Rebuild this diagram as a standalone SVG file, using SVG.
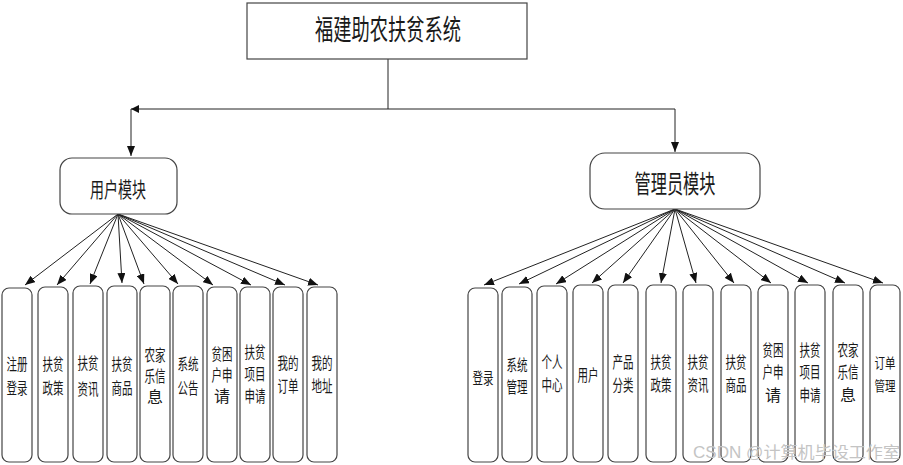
<svg xmlns="http://www.w3.org/2000/svg" width="903" height="465" viewBox="0 0 903 465">
<defs>
<marker id="ah" markerWidth="10" markerHeight="8" refX="10" refY="4" orient="auto" markerUnits="userSpaceOnUse">
<path d="M0,0 L10,4 L0,8 Z" fill="#111"/>
</marker>
<style>
.box{fill:#fff;stroke:#444;stroke-width:1.2}
.ln{fill:none;stroke:#222;stroke-width:1}
.t{font-family:"Liberation Sans","Noto Sans CJK SC",sans-serif;fill:#1a1a1a;text-anchor:middle}
.s{font-size:16px}
.wm{font-family:"Liberation Sans","Noto Sans CJK SC",sans-serif;font-size:16px;fill:#c4c4c4}
</style>
</defs>
<g id="connectors">
<path class="ln" d="M388,59 V109 H131 V156" marker-end="url(#ah)"/>
<path d="M131,109 L139,105 L139,113 Z" fill="#111"/>
<path class="ln" d="M388,109 H675 V152" marker-end="url(#ah)"/>
<g class="ln">
<line x1="118" y1="214" x2="25" y2="285" marker-end="url(#ah)"/>
<line x1="118" y1="214" x2="57" y2="285" marker-end="url(#ah)"/>
<line x1="118" y1="214" x2="90" y2="284" marker-end="url(#ah)"/>
<line x1="118" y1="214" x2="122" y2="283" marker-end="url(#ah)"/>
<line x1="118" y1="214" x2="144" y2="284" marker-end="url(#ah)"/>
<line x1="118" y1="214" x2="178" y2="284" marker-end="url(#ah)"/>
<line x1="118" y1="214" x2="213" y2="285" marker-end="url(#ah)"/>
<line x1="118" y1="214" x2="251" y2="285" marker-end="url(#ah)"/>
<line x1="118" y1="214" x2="285" y2="285" marker-end="url(#ah)"/>
<line x1="118" y1="214" x2="318" y2="285" marker-end="url(#ah)"/>
<line x1="675" y1="209" x2="484" y2="285" marker-end="url(#ah)"/>
<line x1="675" y1="209" x2="519" y2="284" marker-end="url(#ah)"/>
<line x1="675" y1="209" x2="556" y2="284" marker-end="url(#ah)"/>
<line x1="675" y1="209" x2="592" y2="283" marker-end="url(#ah)"/>
<line x1="675" y1="209" x2="623" y2="283" marker-end="url(#ah)"/>
<line x1="675" y1="209" x2="661" y2="283" marker-end="url(#ah)"/>
<line x1="675" y1="209" x2="696" y2="283" marker-end="url(#ah)"/>
<line x1="675" y1="209" x2="734" y2="283" marker-end="url(#ah)"/>
<line x1="675" y1="209" x2="771" y2="283" marker-end="url(#ah)"/>
<line x1="675" y1="209" x2="808" y2="283" marker-end="url(#ah)"/>
<line x1="675" y1="209" x2="845" y2="283" marker-end="url(#ah)"/>
<line x1="675" y1="209" x2="883" y2="283" marker-end="url(#ah)"/>
</g>
</g>
<g id="root">
<rect class="box" x="247" y="3" width="280" height="56"/>
<text class="t" x="388" y="40" font-size="28" textLength="146" lengthAdjust="spacingAndGlyphs">福建助农扶贫系统</text>
</g>
<g id="user">
<rect class="box" x="60" y="158" width="117" height="56" rx="12"/>
<text class="t" x="118" y="197" font-size="21" textLength="56" lengthAdjust="spacingAndGlyphs">用户模块</text>
</g>
<g id="admin">
<rect class="box" x="590" y="153" width="170" height="56" rx="15"/>
<text class="t" x="675" y="193" font-size="25" textLength="81" lengthAdjust="spacingAndGlyphs">管理员模块</text>
</g>
<g id="u1"><rect class="box" x="2" y="288" width="30" height="174" rx="7"/><text class="t s" x="17" y="370" textLength="21" lengthAdjust="spacingAndGlyphs">注册</text><text class="t s" x="17" y="394" textLength="21" lengthAdjust="spacingAndGlyphs">登录</text></g>
<g id="u2"><rect class="box" x="38" y="287" width="30" height="175" rx="7"/><text class="t s" x="53" y="370" textLength="21" lengthAdjust="spacingAndGlyphs">扶贫</text><text class="t s" x="53" y="394" textLength="21" lengthAdjust="spacingAndGlyphs">政策</text></g>
<g id="u3"><rect class="box" x="73" y="286" width="30" height="176" rx="7"/><text class="t s" x="88" y="369" textLength="21" lengthAdjust="spacingAndGlyphs">扶贫</text><text class="t s" x="88" y="395" textLength="21" lengthAdjust="spacingAndGlyphs">资讯</text></g>
<g id="u4"><rect class="box" x="107" y="286" width="30" height="176" rx="7"/><text class="t s" x="122" y="370" textLength="21" lengthAdjust="spacingAndGlyphs">扶贫</text><text class="t s" x="122" y="394" textLength="21" lengthAdjust="spacingAndGlyphs">商品</text></g>
<g id="u5"><rect class="box" x="140" y="286" width="30" height="176" rx="7"/><text class="t s" x="155" y="361" textLength="21" lengthAdjust="spacingAndGlyphs">农家</text><text class="t s" x="155" y="382" textLength="21" lengthAdjust="spacingAndGlyphs">乐信</text><text class="t s" x="155" y="403">息</text></g>
<g id="u6"><rect class="box" x="173" y="286" width="30" height="176" rx="7"/><text class="t s" x="188" y="370" textLength="21" lengthAdjust="spacingAndGlyphs">系统</text><text class="t s" x="188" y="394" textLength="21" lengthAdjust="spacingAndGlyphs">公告</text></g>
<g id="u7"><rect class="box" x="207" y="287" width="30" height="175" rx="7"/><text class="t s" x="222" y="360" textLength="21" lengthAdjust="spacingAndGlyphs">贫困</text><text class="t s" x="222" y="381" textLength="21" lengthAdjust="spacingAndGlyphs">户申</text><text class="t s" x="222" y="402">请</text></g>
<g id="u8"><rect class="box" x="240" y="287" width="30" height="175" rx="7"/><text class="t s" x="255" y="358" textLength="21" lengthAdjust="spacingAndGlyphs">扶贫</text><text class="t s" x="255" y="380" textLength="21" lengthAdjust="spacingAndGlyphs">项目</text><text class="t s" x="255" y="402" textLength="21" lengthAdjust="spacingAndGlyphs">申请</text></g>
<g id="u9"><rect class="box" x="273" y="287" width="30" height="175" rx="7"/><text class="t s" x="288" y="369" textLength="21" lengthAdjust="spacingAndGlyphs">我的</text><text class="t s" x="288" y="392" textLength="21" lengthAdjust="spacingAndGlyphs">订单</text></g>
<g id="u10"><rect class="box" x="307" y="287" width="30" height="175" rx="7"/><text class="t s" x="322" y="369" textLength="21" lengthAdjust="spacingAndGlyphs">我的</text><text class="t s" x="322" y="392" textLength="21" lengthAdjust="spacingAndGlyphs">地址</text></g>
<g id="a1"><rect class="box" x="468" y="288" width="30" height="174" rx="7"/><text class="t s" x="483" y="384" textLength="21" lengthAdjust="spacingAndGlyphs">登录</text></g>
<g id="a2"><rect class="box" x="502" y="287" width="30" height="175" rx="7"/><text class="t s" x="517" y="371" textLength="21" lengthAdjust="spacingAndGlyphs">系统</text><text class="t s" x="517" y="393" textLength="21" lengthAdjust="spacingAndGlyphs">管理</text></g>
<g id="a3"><rect class="box" x="537" y="286" width="30" height="176" rx="7"/><text class="t s" x="552" y="368" textLength="21" lengthAdjust="spacingAndGlyphs">个人</text><text class="t s" x="552" y="391" textLength="21" lengthAdjust="spacingAndGlyphs">中心</text></g>
<g id="a4"><rect class="box" x="573" y="285" width="30" height="177" rx="7"/><text class="t s" x="588" y="381" textLength="21" lengthAdjust="spacingAndGlyphs">用户</text></g>
<g id="a5"><rect class="box" x="608" y="285" width="30" height="177" rx="7"/><text class="t s" x="623" y="368" textLength="21" lengthAdjust="spacingAndGlyphs">产品</text><text class="t s" x="623" y="391" textLength="21" lengthAdjust="spacingAndGlyphs">分类</text></g>
<g id="a6"><rect class="box" x="646" y="285" width="30" height="177" rx="7"/><text class="t s" x="661" y="368" textLength="21" lengthAdjust="spacingAndGlyphs">扶贫</text><text class="t s" x="661" y="391" textLength="21" lengthAdjust="spacingAndGlyphs">政策</text></g>
<g id="a7"><rect class="box" x="683" y="285" width="30" height="177" rx="7"/><text class="t s" x="698" y="368" textLength="21" lengthAdjust="spacingAndGlyphs">扶贫</text><text class="t s" x="698" y="391" textLength="21" lengthAdjust="spacingAndGlyphs">资讯</text></g>
<g id="a8"><rect class="box" x="721" y="285" width="30" height="177" rx="7"/><text class="t s" x="736" y="368" textLength="21" lengthAdjust="spacingAndGlyphs">扶贫</text><text class="t s" x="736" y="391" textLength="21" lengthAdjust="spacingAndGlyphs">商品</text></g>
<g id="a9"><rect class="box" x="758" y="285" width="30" height="177" rx="7"/><text class="t s" x="773" y="356" textLength="21" lengthAdjust="spacingAndGlyphs">贫困</text><text class="t s" x="773" y="378" textLength="21" lengthAdjust="spacingAndGlyphs">户申</text><text class="t s" x="773" y="401">请</text></g>
<g id="a10"><rect class="box" x="795" y="285" width="30" height="177" rx="7"/><text class="t s" x="810" y="356" textLength="21" lengthAdjust="spacingAndGlyphs">扶贫</text><text class="t s" x="810" y="378" textLength="21" lengthAdjust="spacingAndGlyphs">项目</text><text class="t s" x="810" y="401" textLength="21" lengthAdjust="spacingAndGlyphs">申请</text></g>
<g id="a11"><rect class="box" x="833" y="285" width="30" height="177" rx="7"/><text class="t s" x="848" y="356" textLength="21" lengthAdjust="spacingAndGlyphs">农家</text><text class="t s" x="848" y="378" textLength="21" lengthAdjust="spacingAndGlyphs">乐信</text><text class="t s" x="848" y="401">息</text></g>
<g id="a12"><rect class="box" x="870" y="285" width="30" height="177" rx="7"/><text class="t" font-size="14" x="885" y="368" textLength="21" lengthAdjust="spacingAndGlyphs">订单</text><text class="t" font-size="14" x="885" y="391" textLength="21" lengthAdjust="spacingAndGlyphs">管理</text></g>
<text class="wm" x="693" y="458" textLength="207" lengthAdjust="spacingAndGlyphs">CSDN @计算机毕设工作室</text>
</svg>
